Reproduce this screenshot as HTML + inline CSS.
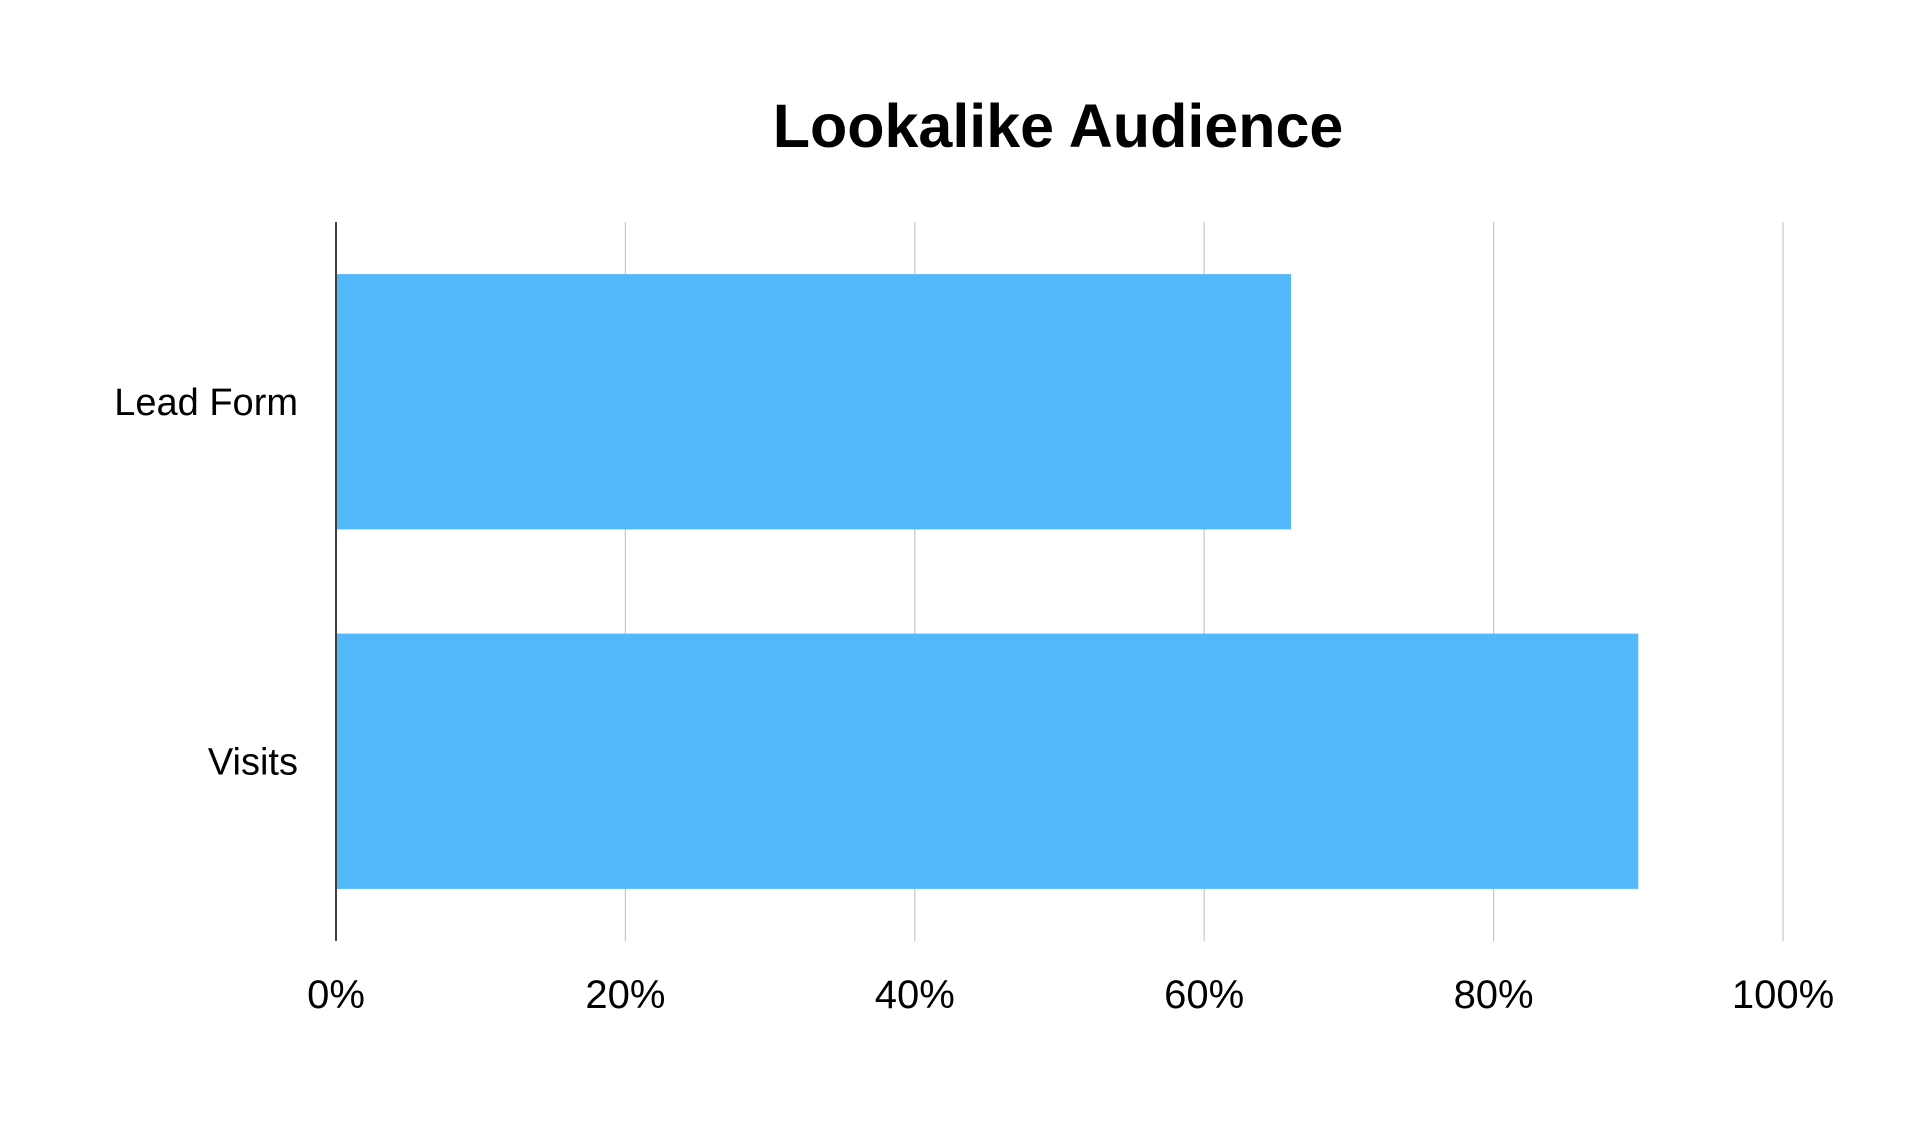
<!DOCTYPE html>
<html><head><meta charset="utf-8"><style>
html,body{margin:0;padding:0;background:#fff;}
svg{display:block;font-family:"Liberation Sans",sans-serif;}
</style></head><body>
<svg id="chart" width="1924" height="1126">
<text x="1058" y="147" text-anchor="middle" font-size="61" font-weight="bold" fill="#000">Lookalike Audience</text>
<g id="grid"></g><g id="bars"></g><g id="labels"></g>
</svg>
<script>
const categories = ["Lead Form", "Visits"];
const values = [66, 90];
const tickValues = [0, 20, 40, 60, 80, 100];
const tickLabels = ["0%", "20%", "40%", "60%", "80%", "100%"];
const NS = "http://www.w3.org/2000/svg";
const x0 = 336, x1 = 1783, plotTop = 222, plotBottom = 941;
const xs = v => x0 + (v / 100) * (x1 - x0);
const band = (plotBottom - plotTop) / categories.length;
const grid = document.getElementById('grid'), bars = document.getElementById('bars'), labels = document.getElementById('labels');
function mk(tag, attrs){const e=document.createElementNS(NS,tag);for(const k in attrs)e.setAttribute(k,attrs[k]);return e;}
tickValues.forEach((t,i)=>{
  const l = mk('line',{x1:xs(t),x2:xs(t),y1:plotTop,y2:plotBottom,stroke:t===0?'#000':'#c8c8c8','stroke-width':t===0?1.5:1.2});
  
  
  grid.appendChild(l);
  const tx = mk('text',{x:xs(t),y:1008,'text-anchor':'middle','font-size':40,fill:'#000'});
  tx.textContent = tickLabels[i];
  
  
  labels.appendChild(tx);
});
categories.forEach((c,i)=>{
  const y = plotTop + band*i + band*0.145;
  const h = band*0.71;
  const r = mk('rect',{x:xs(0)+1,y:y,width:xs(values[i])-xs(0)-1,height:h,fill:'#52b8fa'});
  
  
  bars.appendChild(r);
  const tx = mk('text',{x:298,y:y+h/2+13,'text-anchor':'end','font-size':38,fill:'#000'});
  tx.textContent = c;
  
  
  labels.appendChild(tx);
});
</script>
</body></html>
